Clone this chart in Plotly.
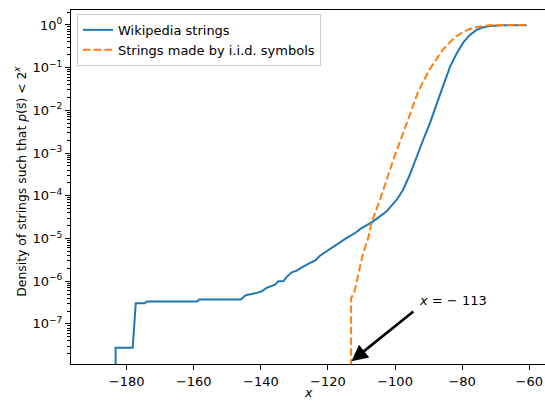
import plotly.graph_objects as go

# Wikipedia strings (x, density)
wiki_x = [-183.3, -183.3, -178.2, -177.3, -174.6, -174.0, -159.0, -158.4, -146.0, -144.5,
          -141.2, -139.8, -138.3, -137.3, -135.8, -134.8, -133.3, -132.3, -130.8, -129.3,
          -127.8, -125.3, -123.8, -122.4, -118.4, -114.4, -111.9, -110.2, -106.5, -102.5,
          -99.5, -97.6, -95.6, -93.6, -91.6, -89.6, -87.6, -86.1, -83.6, -81.6,
          -79.7, -77.7, -75.7, -73.7, -71.7, -67.7, -60.8]
wiki_y = [1e-9, 2.75e-8, 2.75e-8, 3.03e-7, 3.03e-7, 3.33e-7, 3.33e-7, 3.70e-7, 3.70e-7, 4.67e-7,
          5.31e-7, 5.78e-7, 6.95e-7, 7.57e-7, 8.30e-7, 9.91e-7, 9.91e-7, 1.26e-6, 1.61e-6, 1.77e-6,
          2.11e-6, 2.67e-6, 3.07e-6, 3.95e-6, 6.53e-6, 1.03e-5, 1.34e-5, 1.70e-5, 2.51e-5, 4.31e-5,
          8.07e-5, 1.38e-4, 3.10e-4, 8.32e-4, 2.05e-3, 5.02e-3, 1.48e-2, 3.02e-2, 0.106, 0.218,
          0.385, 0.583, 0.764, 0.883, 0.948, 0.984, 0.99]

# Strings made by i.i.d. symbols
iid_x = [-113.1, -113.1, -112.2, -109.5, -108.0, -107.0, -104.5, -100.5, -96.5, -93.1,
         -91.8, -89.8, -87.8, -85.8, -83.8, -81.9, -79.9, -77.9, -75.9, -73.9,
         -71.9, -68.0, -60.8]
iid_y = [1e-9, 4.05e-7, 5.31e-7, 4.57e-6, 1.03e-5, 2.36e-5, 8.07e-5, 6.97e-4, 5.02e-3, 2.75e-2,
         4.34e-2, 8.87e-2, 0.152, 0.260, 0.385, 0.532, 0.675, 0.793, 0.883, 0.948,
         0.984, 0.995, 0.995]

x_ticks = [-180, -160, -140, -120, -100, -80, -60]
y_tickvals = [1e-7, 1e-6, 1e-5, 1e-4, 1e-3, 1e-2, 1e-1, 1]
y_ticktext = ["10<sup>−7</sup>", "10<sup>−6</sup>", "10<sup>−5</sup>", "10<sup>−4</sup>",
              "10<sup>−3</sup>", "10<sup>−2</sup>", "10<sup>−1</sup>", "10<sup>0</sup>"]
y_minor = [m * 10.0 ** e for e in range(-8, 1) for m in range(2, 10)]

annot_x = -113.0
annot_label = "<i>x</i> = − 113"

FONT = "DejaVu Sans"
fig = go.Figure()
fig.add_trace(go.Scatter(x=wiki_x, y=wiki_y, mode="lines", name="Wikipedia strings",
                         line=dict(color="#1f77b4", width=2)))
fig.add_trace(go.Scatter(x=iid_x, y=iid_y, mode="lines", name="Strings made by i.i.d. symbols",
                         line=dict(color="#ff7f0e", width=2, dash="7.5px,3.2px")))

fig.update_layout(
    width=545, height=401,
    margin=dict(l=71, r=0, t=10, b=36.5),
    paper_bgcolor="white", plot_bgcolor="white",
    font=dict(family=FONT, size=13, color="black"),
    showlegend=True,
    legend=dict(x=0.0127, y=0.989, xanchor="left", yanchor="top",
                bgcolor="rgba(255,255,255,0.8)", bordercolor="#cccccc", borderwidth=1,
                font=dict(size=13), itemwidth=30, tracegroupgap=0),
    xaxis=dict(range=[-196.6, -55.3], tickmode="array", tickvals=x_ticks,
               ticks="outside", ticklen=5, tickcolor="black", tickwidth=1,
               showline=True, linecolor="black", linewidth=1, mirror=True,
               showgrid=False, zeroline=False),
    yaxis=dict(type="log", range=[-7.94, 0.35], tickmode="array",
               tickvals=y_tickvals, ticktext=y_ticktext,
               ticks="outside", ticklen=5, tickcolor="black", tickwidth=1,
               minor=dict(tickmode="array", tickvals=y_minor, ticks="outside",
                          ticklen=3, tickcolor="black", tickwidth=0.8, showgrid=False),
               showline=True, linecolor="black", linewidth=1, mirror=False,
               showgrid=False, zeroline=False),
)

fig.add_annotation(x=annot_x, y=-7.876, xref="x", yref="y",
                   ax=-94.1, ay=-6.68, axref="x", ayref="y",
                   text="", showarrow=True, arrowhead=2, arrowwidth=2.6,
                   arrowsize=1.25, arrowcolor="black", standoff=0)
fig.add_annotation(x=-93.6, y=-6.45, xref="x", yref="y", text=annot_label,
                   showarrow=False, xanchor="left", yanchor="middle",
                   font=dict(size=13))
fig.add_annotation(x=0, y=0.515, xref="paper", yref="paper", xshift=-51,
                   text="Density of strings such that <i>p</i>(s⃗) < 2<sup><i>x</i></sup>",
                   textangle=-90, showarrow=False, xanchor="center", yanchor="middle",
                   font=dict(size=12.4))
fig.add_annotation(x=-125.7, y=0, xref="x", yref="paper", yshift=-36.5,
                   text="<i>x</i>", showarrow=False, xanchor="center", yanchor="bottom",
                   borderpad=0, font=dict(size=12.5))

fig.write_html("out.html")
